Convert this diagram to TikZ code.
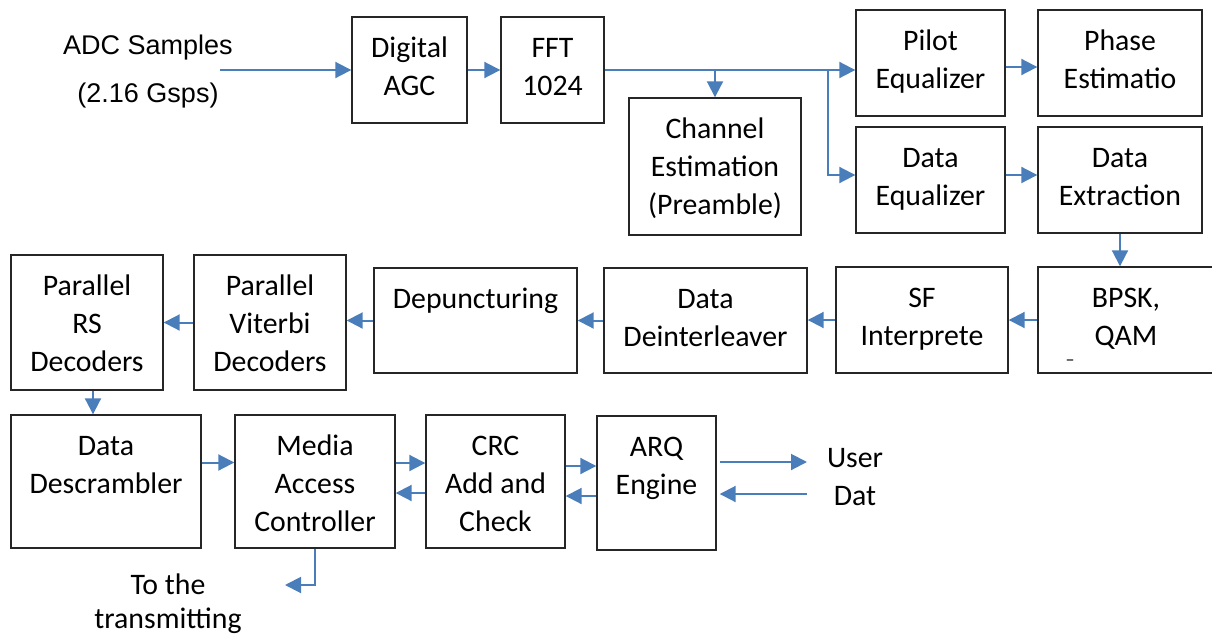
\documentclass[tikz,border=0pt]{standalone}
\usepackage{fontspec}
\setmainfont{Carlito}
\newfontfamily\arialf{Liberation Sans}
\usetikzlibrary{arrows.meta,calc}
\definecolor{arrblue}{HTML}{4A7EBB}
\newcommand\blk[6]{%
  \node[box, minimum width={#4-#2}, minimum height={#5-#3}] (#1) at ({(#2+#4)/2},{(#3+#5)/2}) {};
  \node[lbl] (#1t) at ($(#1.north)+(0,14.5)$) {\strut #6};}
\begin{document}
\begin{tikzpicture}[x=1pt,y=-1pt,
  box/.style={draw=black!85, line width=1.4pt, inner sep=0pt},
  lbl/.style={font=\fontsize{29.8}{38}\selectfont, align=center, inner sep=0pt, anchor=north},
  free/.style={font=\fontsize{29.8}{38}\selectfont, inner sep=0pt},
  adcf/.style={font=\arialf\fontsize{27}{33}\selectfont, inner sep=0pt},
  arr/.style={draw=arrblue, line width=2pt, -{Triangle[length=16pt,width=16pt]}}]
\useasboundingbox (0,0) rectangle (1212,635);
\clip (0,0) rectangle (1212,635);

\blk{agc}{352}{17}{467}{123}{Digital\\AGC}
\blk{fft}{501}{17}{604}{123}{FFT\\1024}
\blk{chan}{629}{98}{801}{235}{Channel\\Estimation\\(Preamble)}
\blk{pilot}{856}{10}{1005}{116}{Pilot\\Equalizer}
\blk{phase}{1038}{10}{1202}{116}{Phase\\Estimatio}
\blk{deq}{856}{127}{1005}{233}{Data\\Equalizer}
\blk{dext}{1038}{127}{1202}{233}{Data\\Extraction}
\blk{bpsk}{1038}{267}{1214}{373}{BPSK,\\QAM}
\blk{sf}{836}{267}{1008}{373}{SF\\Interprete}
\blk{deint}{604}{268}{807}{373}{Data\\Deinterleaver}
\blk{depu}{374}{268}{577}{373}{Depuncturing}
\blk{vit}{194}{255}{346}{390}{Parallel\\Viterbi\\Decoders}
\blk{rs}{11}{255}{163}{390}{Parallel\\RS\\Decoders}
\blk{desc}{11}{415}{201}{548}{Data\\Descrambler}
\blk{mac}{235}{415}{395}{548}{Media\\Access\\Controller}
\blk{crc}{426}{415}{565}{548}{CRC\\Add and\\Check}
\blk{arq}{597}{416}{716}{550}{ARQ\\Engine}

\node[font=\fontsize{18}{20}\selectfont, inner sep=0pt] (bdash) at (1070,363) {–};

\node[adcf] (adc1) at (148,48) {ADC Samples};
\node[adcf] (adc2) at (148,96) {(2.16 Gsps)};
\node[free] (user) at (855,458) {User};
\node[free] (dat) at (855,496) {Dat};
\node[free] (to1) at (168,584) {To the};
\node[free] (to2) at (168,621) {transmitting};

% coordinates
\coordinate (adcout) at (220,70);
\coordinate (br) at (828,70);
\coordinate (uin) at (807,462);
\coordinate (uout) at (807,494);
\coordinate (txend) at (285,585);
\coordinate (rsout) at ($(rs.south)+(6,0)$);
\coordinate (d1) at ($(desc.east)+(0,-19)$);
\coordinate (m1) at (395,463);
\coordinate (m2) at (426,493);
\coordinate (c1) at (565,466);
\coordinate (c2) at (597,496);

% connectors
\draw[arr] (adcout) -- (agc.west);
\draw[arr] (agc.east) -- (fft.west);
\draw[arr] (fft.east) -- (pilot.west |- fft.east);
\draw[arr] (chan.north |- fft.east) -- (chan.north);
\draw[arr] (br) |- ($(deq.west)+(0,-5)$);
\draw[arr] ($(pilot.east)+(0,4)$) -- ($(phase.west)+(0,4)$);
\draw[arr] ($(deq.east)+(0,-5)$) -- ($(dext.west)+(0,-5)$);
\draw[arr] (dext.south) -- (dext.south |- bpsk.north);
\draw[arr] (bpsk.west) -- (sf.east);
\draw[arr] (sf.west) -- (deint.east |- sf.west);
\draw[arr] (deint.west) -- (depu.east |- deint.west);
\draw[arr] (depu.west) -- (vit.east |- depu.west);
\draw[arr] (vit.west) -- (rs.east);
\draw[arr] (rsout) -- (rsout |- desc.north);
\draw[arr] (d1) -- (mac.west |- d1);
\draw[arr] (mac.east |- m1) -- (crc.west |- m1);
\draw[arr] (crc.west |- m2) -- (mac.east |- m2);
\draw[arr] (crc.east |- c1) -- (arq.west |- c1);
\draw[arr] (arq.west |- c2) -- (crc.east |- c2);
\draw[arr] ($(arq.east |- uin)+(3,0)$) -- (uin);
\draw[arr] (uout) -- ($(arq.east |- uout)+(3,0)$);
\draw[arr] (mac.south) |- (txend);
\end{tikzpicture}
\end{document}
